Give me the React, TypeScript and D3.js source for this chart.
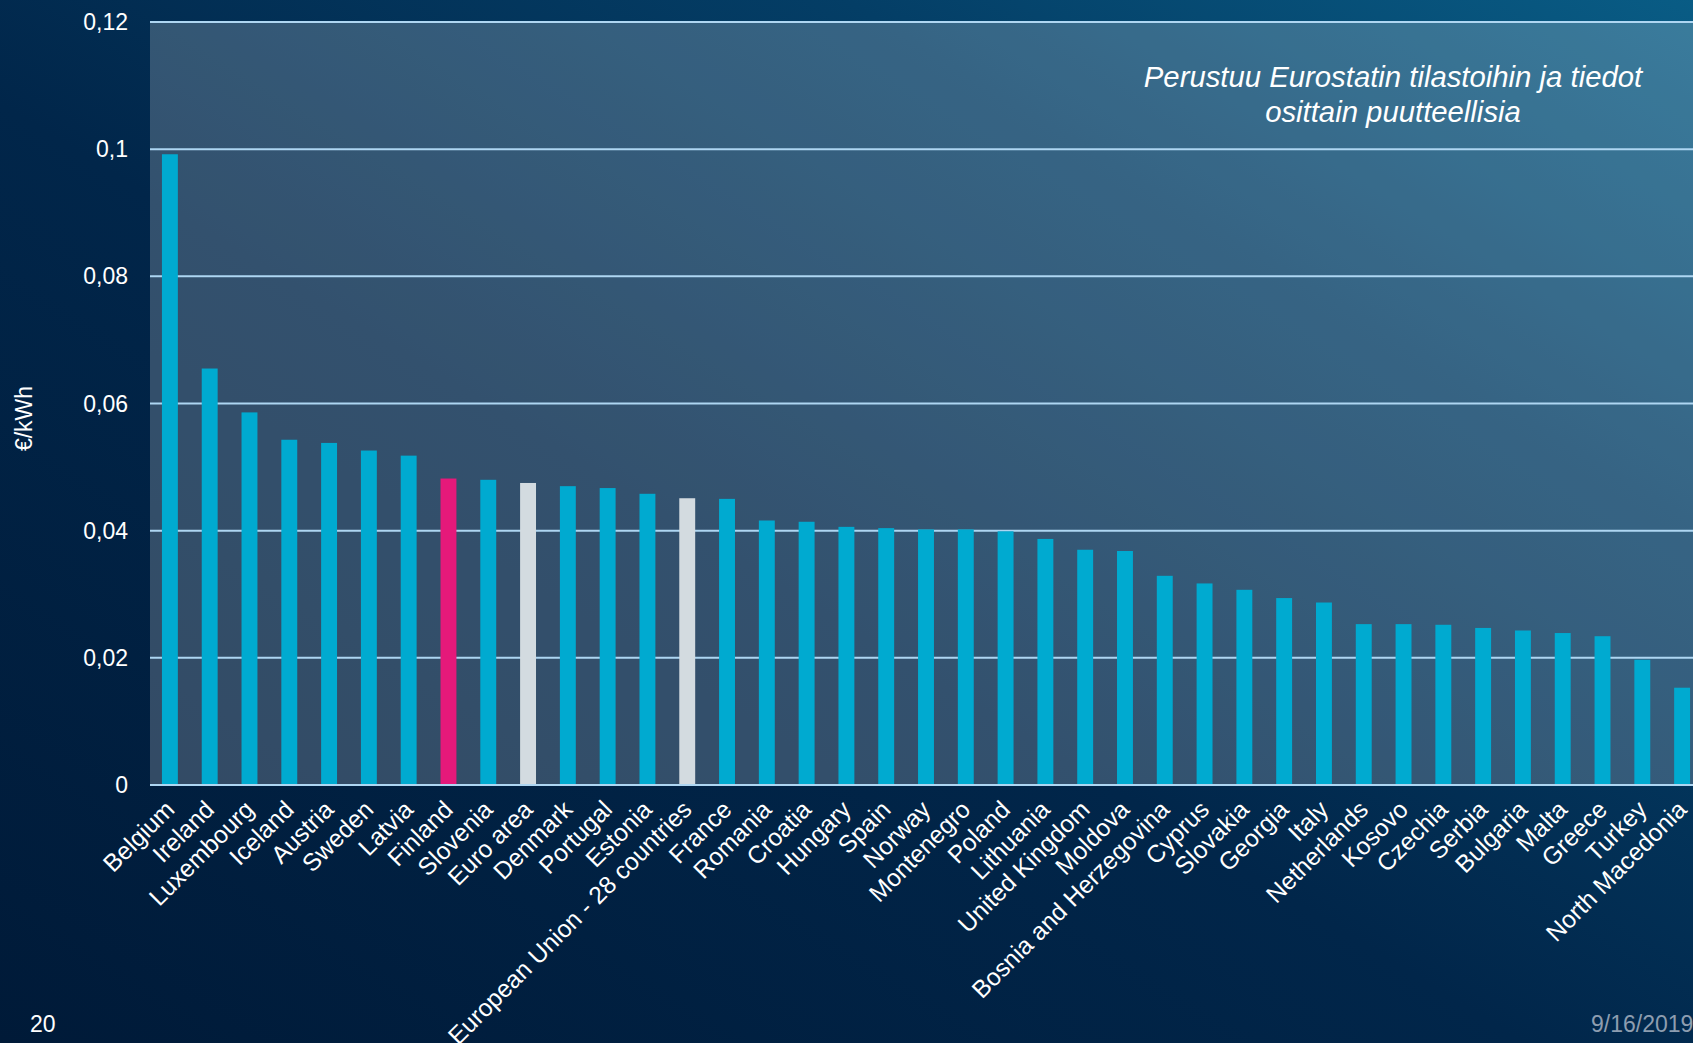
import React from "react";
import * as d3 from "d3";

const categories = [
  "Belgium", "Ireland", "Luxembourg", "Iceland", "Austria", "Sweden", "Latvia", "Finland",
  "Slovenia", "Euro area", "Denmark", "Portugal", "Estonia", "European Union - 28 countries",
  "France", "Romania", "Croatia", "Hungary", "Spain", "Norway", "Montenegro", "Poland",
  "Lithuania", "United Kingdom", "Moldova", "Bosnia and Herzegovina", "Cyprus", "Slovakia",
  "Georgia", "Italy", "Netherlands", "Kosovo", "Czechia", "Serbia", "Bulgaria", "Malta",
  "Greece", "Turkey", "North Macedonia",
];

const values = [
  0.0992, 0.0655, 0.0586, 0.0543, 0.0538, 0.0526, 0.0518, 0.0482,
  0.048, 0.0475, 0.047, 0.0467, 0.0458, 0.0451,
  0.045, 0.0416, 0.0414, 0.0406, 0.0404, 0.0402, 0.0402, 0.0399,
  0.0387, 0.037, 0.0368, 0.0329, 0.0317, 0.0307,
  0.0294, 0.0287, 0.0253, 0.0253, 0.0252, 0.0247, 0.0243, 0.0239,
  0.0234, 0.0197, 0.0153,
];

const highlight = ["Finland"];
const aggregates = ["Euro area", "European Union - 28 countries"];

const yTicks = [0, 0.02, 0.04, 0.06, 0.08, 0.1, 0.12];
const yTickLabels = ["0", "0,02", "0,04", "0,06", "0,08", "0,1", "0,12"];

const yAxisTitle = "€/kWh";
const noteLines = ["Perustuu Eurostatin tilastoihin ja tiedot", "osittain puutteellisia"];
const pageNumber = "20";
const dateText = "9/16/2019";

const W = 1693;
const H = 1043;
const FONT = "'Liberation Sans', Arial, sans-serif";

export default function App() {
  const plotLeft = 150;
  const plotRight = 1702;
  const plotTop = 22;
  const plotBottom = 785;

  const x = d3
    .scaleBand<string>()
    .domain(categories)
    .range([plotLeft, plotRight])
    .paddingInner(0.6)
    .paddingOuter(0.3);

  const y = d3.scaleLinear().domain([0, 0.12]).range([plotBottom, plotTop]);

  const colorFor = (c: string) =>
    highlight.includes(c) ? "#e5197a" : aggregates.includes(c) ? "#d3dbe0" : "#00aad0";

  return (
    <svg
      width={W}
      height={H}
      style={{ position: "absolute", left: 0, top: 0, display: "block" }}
      fontFamily={FONT}
    >
      <defs>
        <linearGradient id="bg" x1="0" y1="1" x2="1" y2="0">
          <stop offset="0" stopColor="#001a38" />
          <stop offset="0.45" stopColor="#01264a" />
          <stop offset="0.75" stopColor="#043e66" />
          <stop offset="1" stopColor="#095c85" />
        </linearGradient>
      </defs>
      <rect x={0} y={0} width={W} height={H} fill="url(#bg)" />
      <rect
        x={plotLeft}
        y={plotTop}
        width={plotRight - plotLeft}
        height={plotBottom - plotTop}
        fill="#ffffff"
        fillOpacity={0.2}
      />

      {yTicks.map((t, i) => (
        <g key={t}>
          <line
            x1={plotLeft}
            x2={W}
            y1={y(t)}
            y2={y(t)}
            stroke="#aed6f2"
            strokeWidth={2}
          />
          <text
            x={128}
            y={y(t)}
            dy="0.35em"
            textAnchor="end"
            fill="#ffffff"
            fontSize={23}
          >
            {yTickLabels[i]}
          </text>
        </g>
      ))}

      {categories.map((c, i) => (
        <rect
          key={c}
          x={x(c)}
          y={y(values[i])}
          width={x.bandwidth()}
          height={y(0) - y(values[i])}
          fill={colorFor(c)}
        />
      ))}

      <line x1={plotLeft} x2={W} y1={y(0)} y2={y(0)} stroke="#aed6f2" strokeWidth={2} />

      {categories.map((c) => {
        const cx = (x(c) as number) + x.bandwidth() / 2 + 6;
        const cy = plotBottom + 26;
        return (
          <text
            key={c}
            transform={`translate(${cx},${cy}) rotate(-45)`}
            textAnchor="end"
            fill="#ffffff"
            fontSize={24.5}
          >
            {c}
          </text>
        );
      })}

      <text
        transform={`translate(32,${(plotTop + plotBottom) / 2 + 15}) rotate(-90)`}
        textAnchor="middle"
        fill="#ffffff"
        fontSize={23}
      >
        {yAxisTitle}
      </text>

      {noteLines.map((l, i) => (
        <text
          key={l}
          x={1393}
          y={87 + i * 35}
          textAnchor="middle"
          fill="#ffffff"
          fontSize={29.3}
          fontStyle="italic"
        >
          {l}
        </text>
      ))}

      <text x={30} y={1032} fill="#ffffff" fontSize={23}>
        {pageNumber}
      </text>
      <text x={1591} y={1032} fill="#8d9db0" fontSize={23}>
        {dateText}
      </text>
    </svg>
  );
}
